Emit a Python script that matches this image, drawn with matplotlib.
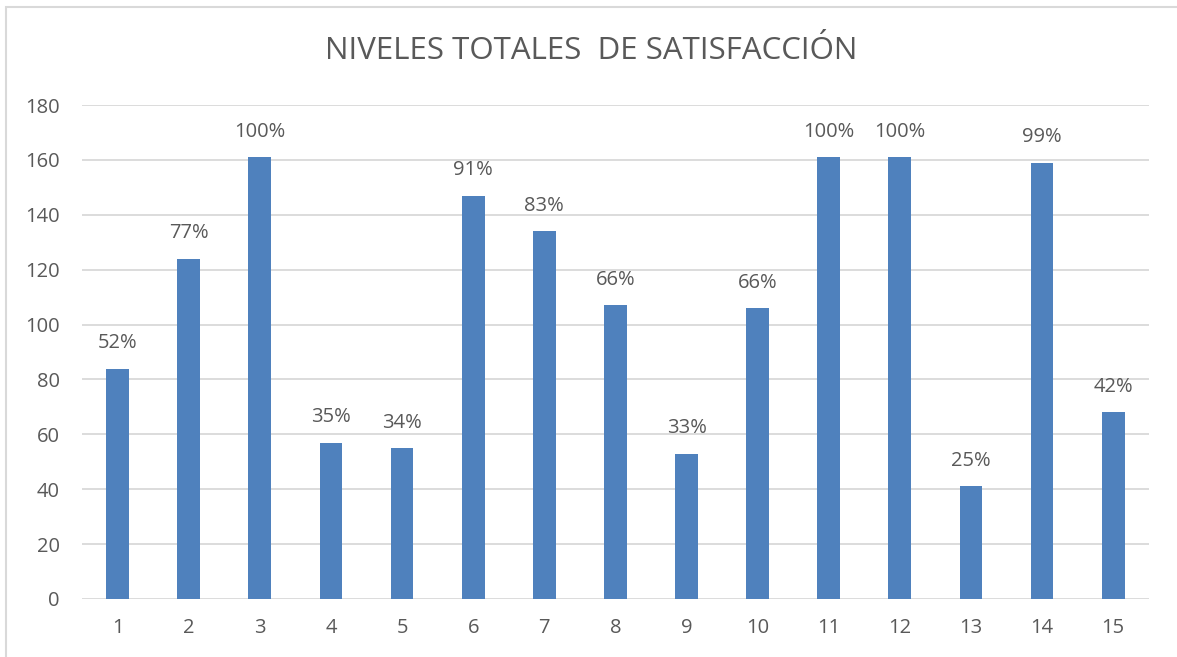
import matplotlib.pyplot as plt
from matplotlib.patches import Rectangle

categorias = [str(i) for i in range(1, 16)]
valores = [84, 124, 161, 57, 55, 147, 134, 107, 53, 106, 161, 161, 41, 159, 68]
etiquetas = ['52%', '77%', '100%', '35%', '34%', '91%', '83%', '66%', '33%',
             '66%', '100%', '100%', '25%', '99%', '42%']

plt.rcParams['font.family'] = ['Open Sans', 'DejaVu Sans']
gris = '#595959'

fig = plt.figure(figsize=(11.77, 6.57), dpi=100)
ax = fig.add_axes([0.0697, 0.0883, 0.9063, 0.7517])

x = list(range(1, 16))
ax.bar(x, valores, width=0.32, color='#4f81bd', zorder=3)
for xi, v, t in zip(x, valores, etiquetas):
    ax.annotate(t, (xi, v), xytext=(0, 11), textcoords='offset points',
                ha='center', va='bottom', fontsize=14.5, color=gris)

ax.set_xlim(0.5, 15.5)
ax.set_ylim(0, 180)
ax.set_yticks(range(0, 181, 20))
ax.set_xticks(x)
ax.set_xticklabels(categorias)
ax.grid(axis='y', color='#d9d9d9', linewidth=1.3, zorder=0)
for s in ax.spines.values():
    s.set_visible(False)
ax.tick_params(length=0, labelsize=14.5, colors=gris)
ax.tick_params(axis='x', pad=14)
ax.tick_params(axis='y', pad=16)

fig.text(0.502, 0.922, 'NIVELES TOTALES  DE SATISFACCIÓN', ha='center', va='center',
         fontsize=22.5, color=gris)
fig.patches.append(Rectangle((0.005, -0.01), 1.0, 1.0, transform=fig.transFigure,
                             fill=False, edgecolor='#d9d9d9', linewidth=1.5))

fig.savefig('out.png', dpi=100)
